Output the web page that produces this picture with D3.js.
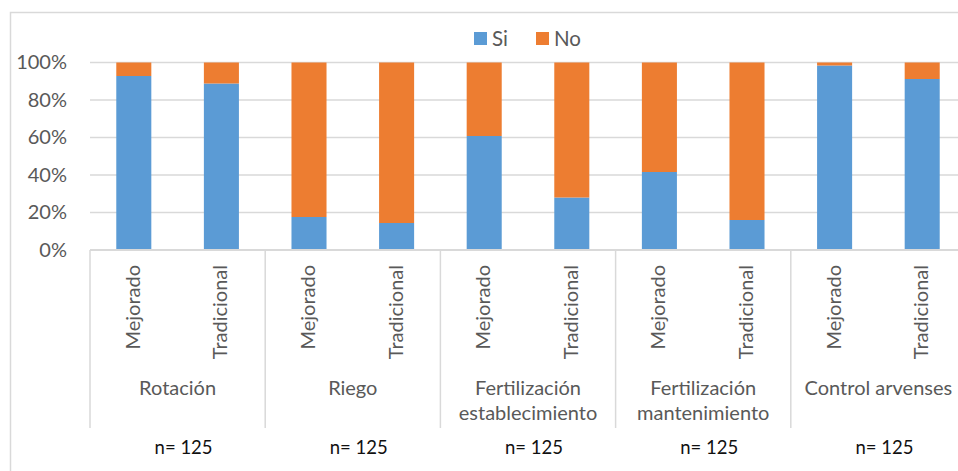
<!DOCTYPE html>
<html>
<head>
<meta charset="utf-8">
<script src="https://cdn.jsdelivr.net/npm/d3@7"></script>
<style>
  body { margin: 0; background: #fff; }
  svg text { font-family: Lato, "Noto Sans", sans-serif; }
</style>
</head>
<body>
<div id="chart"></div>
<script>
// categories (groups) and sub-categories
var groups = ["Rotación", "Riego", "Fertilización establecimiento", "Fertilización mantenimiento", "Control arvenses"];
var groupLines = [["Rotación"], ["Riego"], ["Fertilización", "establecimiento"], ["Fertilización", "mantenimiento"], ["Control arvenses"]];
var systems = ["Mejorado", "Tradicional"];
var nLabels = ["n= 125", "n= 125", "n= 125", "n= 125", "n= 125"];

// share of "Si" (in %) per group, in order Mejorado, Tradicional
var siValues = [92.8, 88.8, 17.6, 14.4, 60.8, 28.0, 41.6, 16.0, 98.4, 91.2];
var noValues = siValues.map(function (v) { return 100 - v; });

var series = ["Si", "No"];
var colors = ["#5B9BD5", "#ED7D31"];
var yTicks = [0, 20, 40, 60, 80, 100];

var W = 958, H = 471;
var margin = { top: 62.5, left: 90, bottom: 221 },
  plotW = 876, // plot runs a bit past the right edge of the picture
  plotH = H - margin.top - margin.bottom;

var rows = [];
groups.forEach(function (g, gi) {
  systems.forEach(function (s, si) {
    var i = gi * 2 + si;
    rows.push({ key: g + "|" + s, group: g, system: s, Si: siValues[i], No: noValues[i] });
  });
});

var svg = d3.select("#chart").append("svg")
  .attr("width", W)
  .attr("height", H);

// outer chart border
svg.append("rect")
  .attr("x", 10.5).attr("y", 12.5)
  .attr("width", 980).attr("height", 480)
  .attr("fill", "none")
  .attr("stroke", "#d9d9d9")
  .attr("stroke-width", 1.5);

var x = d3.scaleBand().domain(rows.map(function (d) { return d.key; }))
  .range([0, plotW]).paddingInner(0.6).paddingOuter(0.3);
var xg = d3.scaleBand().domain(groups).range([0, plotW]);
var y = d3.scaleLinear().domain([0, 100]).range([plotH, 0]);

var g = svg.append("g").attr("transform", `translate(${margin.left}, ${margin.top})`);

// gridlines
g.selectAll(".grid").data(yTicks.filter(function (t) { return t > 0; }))
  .enter().append("line")
  .attr("class", "grid")
  .attr("x1", 0).attr("x2", plotW)
  .attr("y1", function (d) { return y(d); })
  .attr("y2", function (d) { return y(d); })
  .attr("stroke", "#d9d9d9")
  .attr("stroke-width", 1.5);

// y axis labels
var yAxis = g.append("g")
  .call(d3.axisLeft(y).tickValues(yTicks).tickSize(0).tickPadding(23)
    .tickFormat(function (d) { return d + "%"; }));
yAxis.select(".domain").remove();
yAxis.selectAll("text")
  .attr("fill", "#595959")
  .style("font-size", "20px");

// stacked bars
var stack = d3.stack().keys(series)(rows);
g.selectAll(".layer").data(stack)
  .enter().append("g")
  .attr("class", "layer")
  .attr("fill", function (d, i) { return colors[i]; })
  .selectAll("rect").data(function (d) { return d; })
  .enter().append("rect")
  .attr("x", function (d) { return x(d.data.key); })
  .attr("width", x.bandwidth())
  .attr("y", function (d) { return y(d[1]); })
  .attr("height", function (d) { return y(d[0]) - y(d[1]); });

// category axis line
g.append("line")
  .attr("x1", 0).attr("x2", plotW)
  .attr("y1", plotH).attr("y2", plotH)
  .attr("stroke", "#d9d9d9")
  .attr("stroke-width", 2);

// group separators
var sepBottom = 178;
g.selectAll(".sep").data(groups)
  .enter().append("line")
  .attr("class", "sep")
  .attr("x1", function (d) { return xg(d); })
  .attr("x2", function (d) { return xg(d); })
  .attr("y1", plotH).attr("y2", plotH + sepBottom)
  .attr("stroke", "#d9d9d9")
  .attr("stroke-width", 1.5);

// rotated sub-category labels
g.selectAll(".sub").data(rows)
  .enter().append("text")
  .attr("class", "sub")
  .attr("transform", function (d) {
    return `translate(${x(d.key) + x.bandwidth() / 2 + 6}, ${plotH + 15}) rotate(-90)`;
  })
  .attr("text-anchor", "end")
  .attr("fill", "#595959")
  .style("font-size", "20px")
  .text(function (d) { return d.system; });

// group labels
var gl = g.selectAll(".grp").data(groups)
  .enter().append("text")
  .attr("class", "grp")
  .attr("x", function (d) { return xg(d) + xg.bandwidth() / 2; })
  .attr("y", plotH + 145)
  .attr("text-anchor", "middle")
  .attr("fill", "#595959")
  .style("font-size", "20px");
gl.selectAll("tspan").data(function (d, i) { return groupLines[i]; })
  .enter().append("tspan")
  .attr("x", function () { return d3.select(this.parentNode).attr("x"); })
  .attr("dy", function (d, i) { return i === 0 ? 0 : 25; })
  .text(function (d) { return d; });

// n labels
g.selectAll(".nlab").data(groups)
  .enter().append("text")
  .attr("class", "nlab")
  .attr("x", function (d) { return xg(d) + xg.bandwidth() / 2 + 6; })
  .attr("y", plotH + 204)
  .attr("text-anchor", "middle")
  .attr("fill", "#111")
  .style("font-size", "18.5px")
  .text(function (d, i) { return nLabels[i]; });

// legend
var legend = svg.append("g").attr("transform", "translate(474, 32)");
var li = legend.selectAll(".leg").data(series)
  .enter().append("g")
  .attr("class", "leg")
  .attr("transform", function (d, i) { return `translate(${i * 62}, 0)`; });
li.append("rect")
  .attr("width", 13).attr("height", 13)
  .attr("fill", function (d, i) { return colors[i]; });
li.append("text")
  .attr("x", 18).attr("y", 13.5)
  .attr("fill", "#595959")
  .style("font-size", "20.5px")
  .text(function (d) { return d; });
</script>
</body>
</html>
